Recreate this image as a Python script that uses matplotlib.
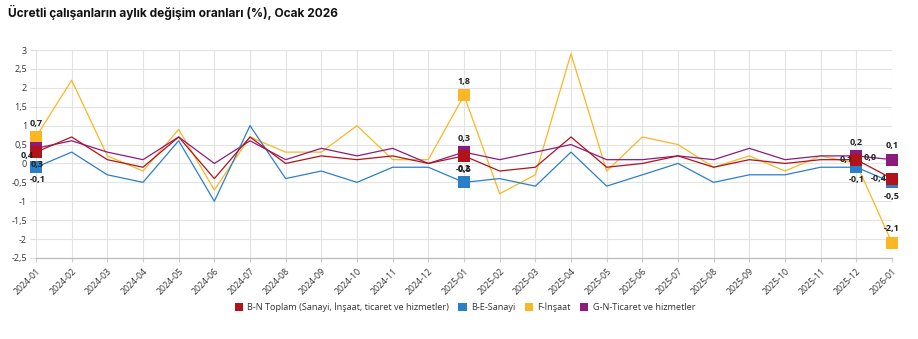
import matplotlib
matplotlib.use("Agg")
import matplotlib.pyplot as plt
from matplotlib.patches import Patch

months = ["2024-01","2024-02","2024-03","2024-04","2024-05","2024-06","2024-07","2024-08",
          "2024-09","2024-10","2024-11","2024-12","2025-01","2025-02","2025-03","2025-04",
          "2025-05","2025-06","2025-07","2025-08","2025-09","2025-10","2025-11","2025-12","2026-01"]

toplam  = [0.3, 0.7, 0.1, -0.1, 0.7, -0.4, 0.7, 0.0, 0.2, 0.1, 0.2, 0.0, 0.2, -0.2, -0.1, 0.7,
           -0.1, 0.0, 0.2, -0.1, 0.1, 0.0, 0.1, 0.1, -0.4]
sanayi  = [-0.1, 0.3, -0.3, -0.5, 0.6, -1.0, 1.0, -0.4, -0.2, -0.5, -0.1, -0.1, -0.5, -0.4, -0.6, 0.3,
           -0.6, -0.3, 0.0, -0.5, -0.3, -0.3, -0.1, -0.1, -0.5]
insaat  = [0.7, 2.2, 0.2, -0.2, 0.9, -0.7, 0.7, 0.3, 0.3, 1.0, 0.1, 0.1, 1.8, -0.8, -0.3, 2.9,
           -0.2, 0.7, 0.5, -0.1, 0.2, -0.2, 0.2, 0.0, -2.1]
ticaret = [0.4, 0.6, 0.3, 0.1, 0.7, 0.0, 0.6, 0.1, 0.4, 0.2, 0.4, 0.0, 0.3, 0.1, 0.3, 0.5,
           0.1, 0.1, 0.2, 0.1, 0.4, 0.1, 0.2, 0.2, 0.1]

series_names = ["B-N Toplam (Sanayi, İnşaat, ticaret ve hizmetler)", "B-E-Sanayi",
                "F-İnşaat", "G-N-Ticaret ve hizmetler"]
series_vals = [toplam, sanayi, insaat, ticaret]
colors = ["#b0131a", "#2a80c8", "#fbb624", "#8c1b80"]
zorders = [6, 5, 3, 4]
marked = [0, 12, 23, 24]

# label offsets in points (dx, dy, ha)
label_pos = {
    (0, 0): (1, -9, 'center'), (0, 12): (0, -9, 'center'), (0, 23): (-3, 0, 'right'), (0, 24): (-4, 0, 'right'),
    (1, 0): (1, -9, 'center'), (1, 12): (0, 9, 'center'), (1, 23): (0, -9, 'center'), (1, 24): (0, -10, 'center'),
    (2, 0): (0, 10, 'center'), (2, 12): (0, 10, 'center'), (2, 23): (5, 4, 'left'), (2, 24): (0, 10, 'center'),
    (3, 0): (-2, -5, 'right'), (3, 12): (0, 10, 'center'), (3, 23): (0, 10, 'center'), (3, 24): (0, 10, 'center'),
}

plt.rcParams['font.family'] = ['Open Sans', 'DejaVu Sans']

fig = plt.figure(figsize=(9.18, 3.39), dpi=100)
ax = fig.add_axes([36/918, 1-258/339, (892-36)/918, (258-50)/339])

x = list(range(len(months)))
for i, (vals, c) in enumerate(zip(series_vals, colors)):
    ax.plot(x, vals, color=c, lw=0.9, zorder=zorders[i], marker='s', markersize=8,
            markevery=marked, markeredgewidth=0, clip_on=False)
    for k in marked:
        dx, dy, ha = label_pos[(i, k)]
        ax.annotate(f"{vals[k]:.1f}".replace('.', ','), (k, vals[k]), xytext=(dx, dy),
                    textcoords='offset points', ha=ha, va='center', fontsize=6.5,
                    fontweight='bold', color='#222222', zorder=10)

ax.set_xlim(0, len(months)-1)
ax.set_ylim(-2.5, 3)
yt = [-2.5, -2, -1.5, -1, -0.5, 0, 0.5, 1, 1.5, 2, 2.5, 3]
ax.set_yticks(yt)
ax.set_yticklabels([(f"{v:g}").replace('.', ',') for v in yt], fontsize=6.5, color='#333333')
ax.set_xticks(x)
ax.set_xticklabels(months, rotation=45, ha='right', va='top', rotation_mode='anchor',
                   fontsize=6.3, color='#333333')
ax.tick_params(axis='y', length=4.5, color='#dddddd', pad=2)
ax.tick_params(axis='x', length=3, color='#cccccc', pad=3)
ax.grid(True, color='#e3e3e3', lw=0.8)
ax.set_axisbelow(True)
for s in ['top', 'right', 'left']:
    ax.spines[s].set_visible(False)
ax.spines['bottom'].set_color('#bbbbbb')
ax.spines['bottom'].set_linewidth(0.9)

fig.text(8/918, 1-12/339, "Ücretli çalışanların aylık değişim oranları (%), Ocak 2026",
         fontsize=8.6, fontweight='bold', va='center', ha='left', color='#111111',
         family=['Inter', 'DejaVu Sans'])

handles = [Patch(facecolor=c, edgecolor='none') for c in colors]
fig.legend(handles, series_names, loc='center', bbox_to_anchor=(465/918, 1-307/339),
           ncol=4, frameon=False, fontsize=6.6, handlelength=0.9, handleheight=0.9,
           handletextpad=0.5, columnspacing=1.0, labelcolor='#333333')

fig.savefig("out.png", dpi=100)
